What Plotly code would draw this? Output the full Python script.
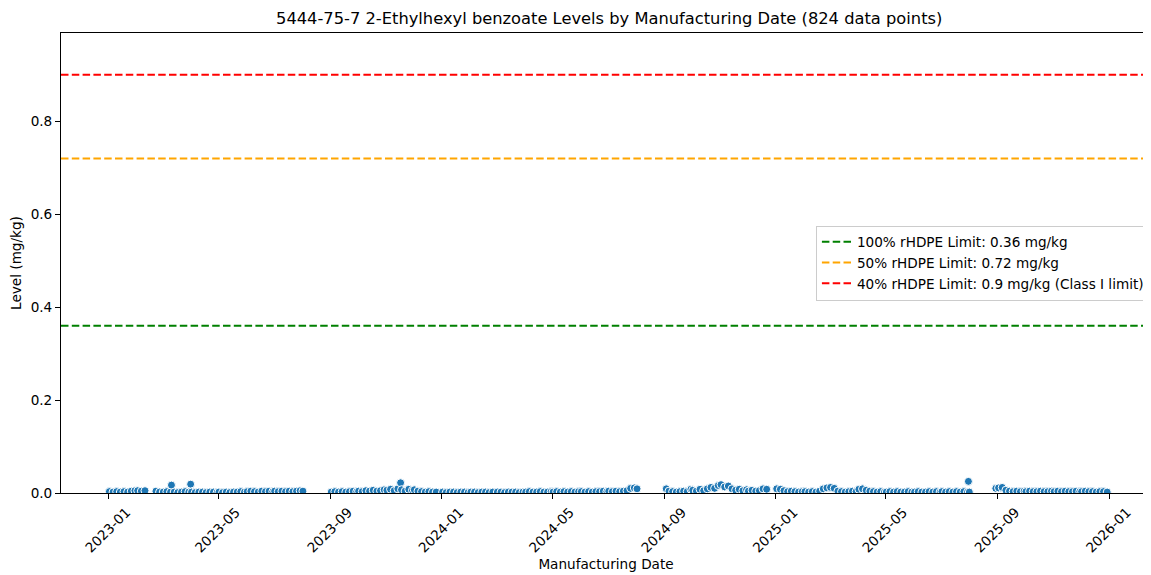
import plotly.graph_objects as go

# production sample dates and measured levels (mg/kg)
sample_dates = [
    "2023-01-02", "2023-01-06", "2023-01-10", "2023-01-14", "2023-01-18", "2023-01-22", "2023-01-26", "2023-01-30",
    "2023-02-02", "2023-02-06", "2023-02-10", "2023-02-22", "2023-02-26",
    "2023-03-02", "2023-03-06", "2023-03-10", "2023-03-11", "2023-03-14", "2023-03-18", "2023-03-22", "2023-03-26", "2023-03-30",
    "2023-04-01", "2023-04-02", "2023-04-06", "2023-04-10", "2023-04-14", "2023-04-18", "2023-04-22", "2023-04-26", "2023-04-30",
    "2023-05-02", "2023-05-06", "2023-05-10", "2023-05-14", "2023-05-18", "2023-05-22", "2023-05-26", "2023-05-30",
    "2023-06-02", "2023-06-06", "2023-06-10", "2023-06-14", "2023-06-18", "2023-06-22", "2023-06-26", "2023-06-30",
    "2023-07-02", "2023-07-06", "2023-07-10", "2023-07-14", "2023-07-18", "2023-07-22", "2023-07-26", "2023-07-30",
    "2023-08-02",
    "2023-09-02", "2023-09-06", "2023-09-10", "2023-09-14", "2023-09-18", "2023-09-22", "2023-09-26", "2023-09-30",
    "2023-10-02", "2023-10-06", "2023-10-10", "2023-10-14", "2023-10-18", "2023-10-22", "2023-10-26", "2023-10-30",
    "2023-11-02", "2023-11-06", "2023-11-10", "2023-11-14", "2023-11-17", "2023-11-18", "2023-11-22", "2023-11-26", "2023-11-30",
    "2023-12-02", "2023-12-06", "2023-12-10", "2023-12-14", "2023-12-18", "2023-12-22", "2023-12-26",
    "2024-01-02", "2024-01-06", "2024-01-10", "2024-01-14", "2024-01-18", "2024-01-22", "2024-01-26", "2024-01-30",
    "2024-02-02", "2024-02-06", "2024-02-10", "2024-02-14", "2024-02-18", "2024-02-22", "2024-02-26",
    "2024-03-02", "2024-03-06", "2024-03-10", "2024-03-14", "2024-03-18", "2024-03-22", "2024-03-26", "2024-03-30",
    "2024-04-02", "2024-04-06", "2024-04-10", "2024-04-14", "2024-04-18", "2024-04-22", "2024-04-26", "2024-04-30",
    "2024-05-02", "2024-05-06", "2024-05-10", "2024-05-14", "2024-05-18", "2024-05-22", "2024-05-26", "2024-05-30",
    "2024-06-02", "2024-06-06", "2024-06-10", "2024-06-14", "2024-06-18", "2024-06-22", "2024-06-26", "2024-06-30",
    "2024-07-02", "2024-07-06", "2024-07-10", "2024-07-14", "2024-07-18", "2024-07-22", "2024-07-26", "2024-07-30",
    "2024-08-02",
    "2024-09-03", "2024-09-06", "2024-09-10", "2024-09-14", "2024-09-18", "2024-09-22", "2024-09-26", "2024-09-30",
    "2024-10-02", "2024-10-06", "2024-10-10", "2024-10-14", "2024-10-18", "2024-10-22", "2024-10-26", "2024-10-30",
    "2024-11-02", "2024-11-06", "2024-11-10", "2024-11-14", "2024-11-18", "2024-11-22", "2024-11-26", "2024-11-30",
    "2024-12-02", "2024-12-06", "2024-12-10", "2024-12-14", "2024-12-18", "2024-12-22",
    "2025-01-02", "2025-01-06", "2025-01-10", "2025-01-14", "2025-01-18", "2025-01-22", "2025-01-26", "2025-01-30",
    "2025-02-02", "2025-02-06", "2025-02-10", "2025-02-14", "2025-02-18", "2025-02-22", "2025-02-26",
    "2025-03-02", "2025-03-06", "2025-03-10", "2025-03-14", "2025-03-18", "2025-03-22", "2025-03-26", "2025-03-30",
    "2025-04-02", "2025-04-06", "2025-04-10", "2025-04-14", "2025-04-18", "2025-04-22", "2025-04-26", "2025-04-30",
    "2025-05-02", "2025-05-06", "2025-05-10", "2025-05-14", "2025-05-18", "2025-05-22", "2025-05-26", "2025-05-30",
    "2025-06-02", "2025-06-06", "2025-06-10", "2025-06-14", "2025-06-18", "2025-06-22", "2025-06-26", "2025-06-30",
    "2025-07-02", "2025-07-06", "2025-07-10", "2025-07-14", "2025-07-18", "2025-07-22", "2025-07-26", "2025-07-30",
    "2025-07-31", "2025-08-01",
    "2025-08-30",
    "2025-09-02", "2025-09-06", "2025-09-10", "2025-09-14", "2025-09-18", "2025-09-22", "2025-09-26", "2025-09-30",
    "2025-10-02", "2025-10-06", "2025-10-10", "2025-10-14", "2025-10-18", "2025-10-22", "2025-10-26", "2025-10-30",
    "2025-11-02", "2025-11-06", "2025-11-10", "2025-11-14", "2025-11-18", "2025-11-22", "2025-11-26", "2025-11-30",
    "2025-12-02", "2025-12-06", "2025-12-10", "2025-12-14", "2025-12-18", "2025-12-22", "2025-12-26", "2025-12-30",
]

levels = [
    0.003, 0.002, 0.003, 0.002, 0.003, 0.002, 0.004, 0.005,
    0.005, 0.004, 0.005, 0.004, 0.002,
    0.002, 0.003, 0.002, 0.017, 0.002, 0.001, 0.002, 0.003, 0.002,
    0.019, 0.002, 0.001, 0.002, 0.002, 0.001, 0.002, 0.002, 0.001,
    0.002, 0.001, 0.002, 0.001, 0.002, 0.002, 0.003, 0.002,
    0.003, 0.004, 0.003, 0.002, 0.004, 0.003, 0.004, 0.003,
    0.004, 0.003, 0.004, 0.003, 0.004, 0.003, 0.004, 0.005,
    0.004,
    0.002, 0.003, 0.002, 0.003, 0.002, 0.003, 0.004, 0.003,
    0.004, 0.003, 0.005, 0.004, 0.006, 0.004, 0.005, 0.007,
    0.006, 0.008, 0.005, 0.009, 0.022, 0.007, 0.004, 0.008, 0.006,
    0.007, 0.004, 0.003, 0.002, 0.003, 0.002, 0.002,
    0.002, 0.001, 0.002, 0.002, 0.001, 0.002, 0.002, 0.001,
    0.002, 0.002, 0.001, 0.002, 0.002, 0.001, 0.002,
    0.002, 0.002, 0.001, 0.002, 0.002, 0.002, 0.001, 0.002,
    0.002, 0.003, 0.002, 0.002, 0.003, 0.002, 0.002, 0.003,
    0.002, 0.003, 0.002, 0.003, 0.002, 0.003, 0.002, 0.003,
    0.003, 0.002, 0.003, 0.002, 0.003, 0.003, 0.004, 0.003,
    0.004, 0.003, 0.004, 0.003, 0.004, 0.005, 0.010, 0.011,
    0.009,
    0.009, 0.004, 0.003, 0.002, 0.003, 0.004, 0.003, 0.008,
    0.006, 0.004, 0.008, 0.005, 0.009, 0.012, 0.010, 0.016,
    0.018, 0.013, 0.015, 0.009, 0.006, 0.008, 0.005, 0.007,
    0.004, 0.006, 0.004, 0.005, 0.009, 0.008,
    0.009, 0.008, 0.005, 0.003, 0.004, 0.003, 0.002, 0.003,
    0.003, 0.002, 0.003, 0.002, 0.004, 0.009, 0.011,
    0.012, 0.010, 0.004, 0.003, 0.002, 0.003, 0.004, 0.003,
    0.008, 0.009, 0.006, 0.004, 0.003, 0.002, 0.003, 0.002,
    0.002, 0.003, 0.002, 0.003, 0.002, 0.002, 0.003, 0.002,
    0.002, 0.003, 0.002, 0.002, 0.003, 0.002, 0.003, 0.002,
    0.003, 0.002, 0.003, 0.002, 0.003, 0.002, 0.003, 0.002,
    0.025, 0.002,
    0.010,
    0.011, 0.012, 0.006, 0.004, 0.003, 0.004, 0.003, 0.004,
    0.003, 0.004, 0.003, 0.003, 0.004, 0.003, 0.003, 0.004,
    0.003, 0.004, 0.003, 0.004, 0.003, 0.003, 0.004, 0.003,
    0.003, 0.004, 0.003, 0.003, 0.002, 0.003, 0.003, 0.002,
]

limit_names = [
    "100% rHDPE Limit: 0.36 mg/kg",
    "50% rHDPE Limit: 0.72 mg/kg",
    "40% rHDPE Limit: 0.9 mg/kg (Class I limit)",
]
limit_values = [0.36, 0.72, 0.9]
limit_colors = ["green", "orange", "red"]

FONT = "DejaVu Sans"
FS = 13.6

fig = go.Figure()

# scatter of measured levels (seaborn-ish: blue dots with white edge)
fig.add_trace(go.Scatter(
    x=sample_dates, y=levels,
    mode="markers",
    marker=dict(color="#1f77b4", size=8, line=dict(color="white", width=1)),
    showlegend=False,
))

# limit lines across full width
for name, val, col in zip(limit_names, limit_values, limit_colors):
    fig.add_hline(y=val, line=dict(color=col, width=2, dash="7.5px,3.3px"),
                  showlegend=True, name=name, layer="above")

# note: page body has an 8px margin, so the figure is a bit smaller than the window
fig.update_layout(
    width=1143, height=567,
    margin=dict(l=53, r=0, t=25, b=82),
    plot_bgcolor="white", paper_bgcolor="white",
    font=dict(family=FONT, size=FS, color="black"),
    title=dict(
        text="5444-75-7 2-Ethylhexyl benzoate Levels by Manufacturing Date (824 data points)",
        x=0.526, xanchor="center", y=0.982, yanchor="middle",
        font=dict(size=16.3, color="black"),
    ),
    xaxis=dict(
        type="date",
        range=["2022-11-10", "2026-02-16"],
        tick0="2023-01-01", dtick="M4", tickformat="%Y-%m",
        tickangle=-45, ticklabelshift=18,
        showline=True, linecolor="black", linewidth=1, mirror=True,
        ticks="outside", ticklen=5, tickcolor="black",
        showgrid=False, zeroline=False, automargin=False,
        title=dict(text="Manufacturing Date", standoff=4, font=dict(size=FS)),
    ),
    yaxis=dict(
        range=[0, 0.99],
        tickvals=[0, 0.2, 0.4, 0.6, 0.8], tickformat=".1f",
        showline=True, linecolor="black", linewidth=1,
        ticks="outside", ticklen=5, tickcolor="black",
        showgrid=False, zeroline=False, automargin=False,
        title=dict(text="Level (mg/kg)", standoff=6, font=dict(size=FS)),
    ),
    legend=dict(
        x=0.999, xanchor="right", y=0.5, yanchor="middle",
        bgcolor="white", bordercolor="#cccccc", borderwidth=1,
        font=dict(size=FS, color="black"),
        tracegroupgap=0,
    ),
)

fig.write_html("out.html")
